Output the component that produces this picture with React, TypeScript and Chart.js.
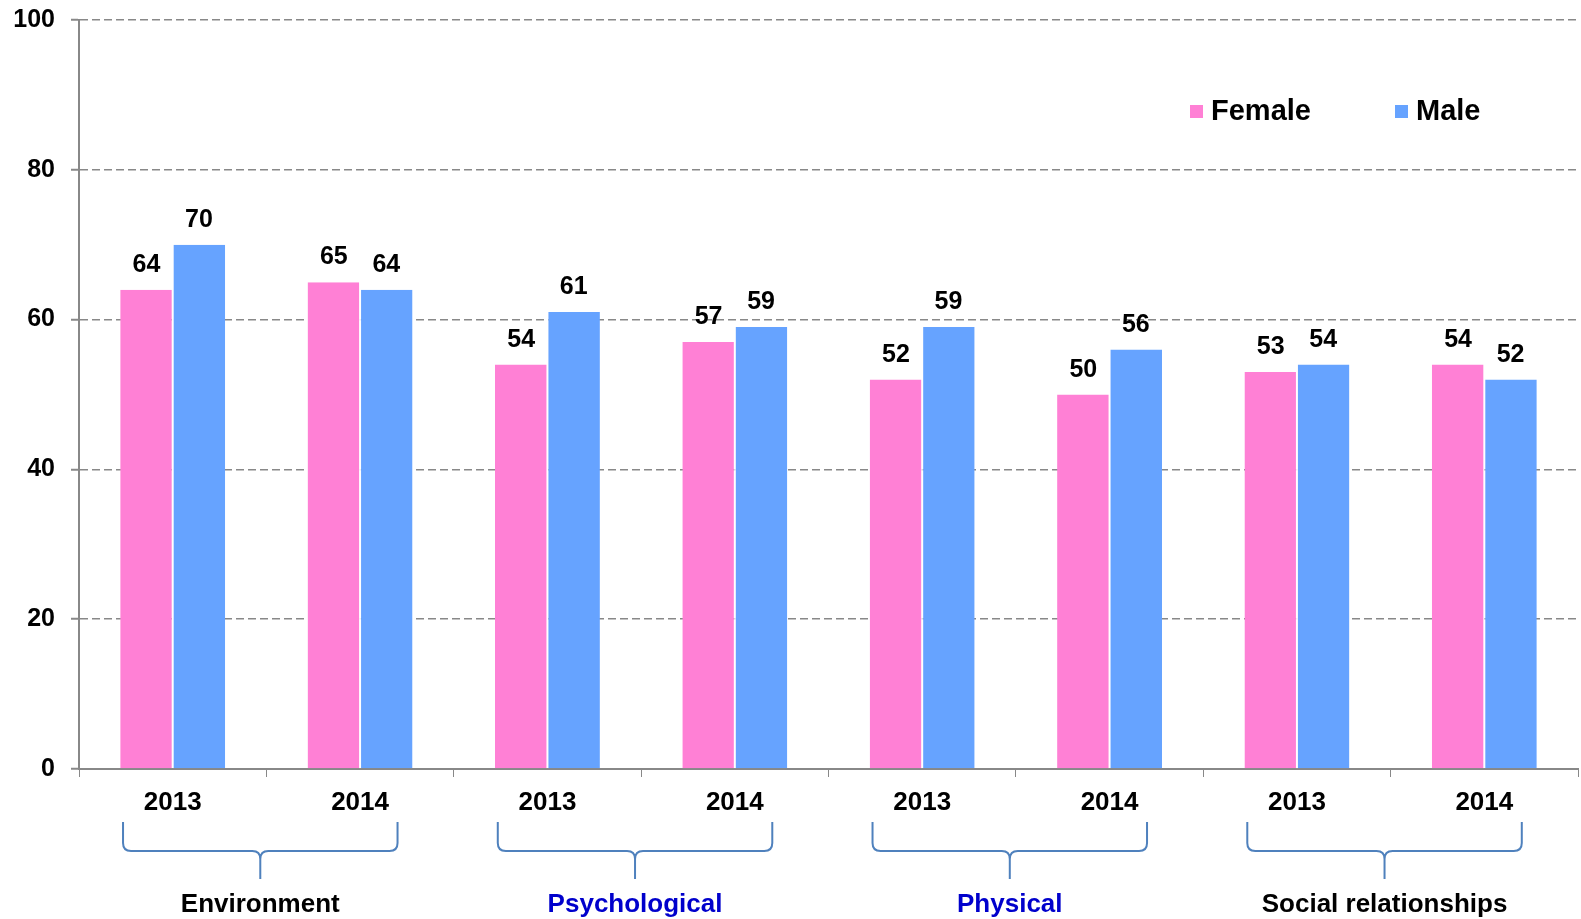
import React, { useEffect, useRef } from "react";
import { Chart, registerables } from "chart.js";

Chart.register(...registerables);

const categories = ["2013", "2014", "2013", "2014", "2013", "2014", "2013", "2014"];
const groups = ["Environment", "Psychological", "Physical", "Social relationships"];
const groupColors = ["#000000", "#0000CC", "#0000CC", "#000000"];
const female = [64, 65, 54, 57, 52, 50, 53, 54];
const male = [70, 64, 61, 59, 59, 56, 54, 52];
const seriesNames = ["Female", "Male"];
const seriesColors = ["#FF80D5", "#66A3FF"];

const FONT = "'Liberation Sans', Arial, sans-serif";

const overlay = {
  id: "overlay",
  afterDatasetsDraw(chart: any) {
    const ctx = chart.ctx;
    ctx.save();
    ctx.font = `bold 25px ${FONT}`;
    ctx.fillStyle = "#000";
    ctx.textAlign = "center";
    ctx.textBaseline = "alphabetic";
    chart.data.datasets.forEach((ds: any, di: number) => {
      const meta = chart.getDatasetMeta(di);
      meta.data.forEach((bar: any, i: number) => {
        ctx.fillText(String(ds.data[i]), bar.x, bar.y - 18);
      });
    });
    ctx.restore();
  },
  afterDraw(chart: any) {
    const ctx = chart.ctx;
    const xs = chart.scales.x;
    ctx.save();
    // legend
    ctx.font = `bold 29px ${FONT}`;
    ctx.textBaseline = "middle";
    ctx.textAlign = "left";
    const legendX = [1190, 1395];
    seriesNames.forEach((n, i) => {
      ctx.fillStyle = seriesColors[i];
      ctx.fillRect(legendX[i], 105, 13, 13);
      ctx.fillStyle = "#000";
      ctx.fillText(n, legendX[i] + 21, 112);
    });
    // braces + group labels
    const w = xs.getPixelForValue(1) - xs.getPixelForValue(0);
    groups.forEach((g, gi) => {
      const c0 = xs.getPixelForValue(gi * 2);
      const c1 = xs.getPixelForValue(gi * 2 + 1);
      const left = c0 - 0.265 * w;
      const right = c1 + 0.2 * w;
      const mid = (left + right) / 2;
      const top = 822;
      const hy = 851;
      const tip = 879;
      const r = 8;
      ctx.strokeStyle = "#4F81BD";
      ctx.lineWidth = 2;
      ctx.beginPath();
      ctx.moveTo(left, top);
      ctx.lineTo(left, hy - r);
      ctx.quadraticCurveTo(left, hy, left + r, hy);
      ctx.lineTo(mid - r, hy);
      ctx.quadraticCurveTo(mid, hy, mid, hy + r);
      ctx.lineTo(mid, tip);
      ctx.moveTo(mid, hy + r);
      ctx.quadraticCurveTo(mid, hy, mid + r, hy);
      ctx.lineTo(right - r, hy);
      ctx.quadraticCurveTo(right, hy, right, hy - r);
      ctx.lineTo(right, top);
      ctx.stroke();
      ctx.font = `bold 26px ${FONT}`;
      ctx.fillStyle = groupColors[gi];
      ctx.textAlign = "center";
      ctx.textBaseline = "middle";
      ctx.fillText(g, mid, 905);
    });
    ctx.restore();
  },
};

export default function App() {
  const ref = useRef<HTMLCanvasElement>(null);
  useEffect(() => {
    document.body.style.margin = "0";
    const chart = new Chart(ref.current!, {
      type: "bar",
      data: {
        labels: categories,
        datasets: [
          { label: seriesNames[0], data: female, backgroundColor: seriesColors[0], borderColor: "#ffffff", borderWidth: { left: 0, right: 1, top: 0, bottom: 0 } as any, borderSkipped: false },
          { label: seriesNames[1], data: male, backgroundColor: seriesColors[1], borderColor: "#ffffff", borderWidth: { left: 1, right: 0, top: 0, bottom: 0 } as any, borderSkipped: false },
        ],
      },
      options: {
        responsive: false,
        animation: false,
        maintainAspectRatio: false,
        layout: { padding: { left: 0, right: 3, top: 20, bottom: 0 } },
        plugins: { legend: { display: false }, tooltip: { enabled: false } },
        datasets: { bar: { categoryPercentage: 0.56, barPercentage: 1 } },
        scales: {
          x: {
            offset: true,
            grid: { display: true, drawOnChartArea: false, drawTicks: true, tickLength: 8, color: "#888", offset: true },
            border: { display: true, color: "#888", width: 2 },
            ticks: { color: "#000", font: { family: FONT, size: 26, weight: "bold" }, padding: 10, maxRotation: 0 },
            afterFit(scale: any) { scale.height = 150; scale.paddingLeft = 0; scale.paddingRight = 0; },
          },
          y: {
            min: 0,
            max: 100,
            ticks: { stepSize: 20, color: "#000", font: { family: FONT, size: 25, weight: "bold" }, padding: 16 },
            grid: { color: "#888", lineWidth: 1.5, tickBorderDash: [], tickLength: 8, tickColor: "#888", tickWidth: 2 } as any,
            border: { display: true, color: "#888", width: 2, dash: [8, 4] },
            afterFit(scale: any) { scale.width = 79; scale.paddingTop = 0; scale.paddingBottom = 0; },
          },
        },
      },
      plugins: [overlay],
    });
    return () => chart.destroy();
  }, []);
  return (
    <div style={{ position: "absolute", left: 0, top: 0, width: 1581, height: 919, background: "#fff" }}>
      <canvas ref={ref} width={1581} height={919} />
    </div>
  );
}
